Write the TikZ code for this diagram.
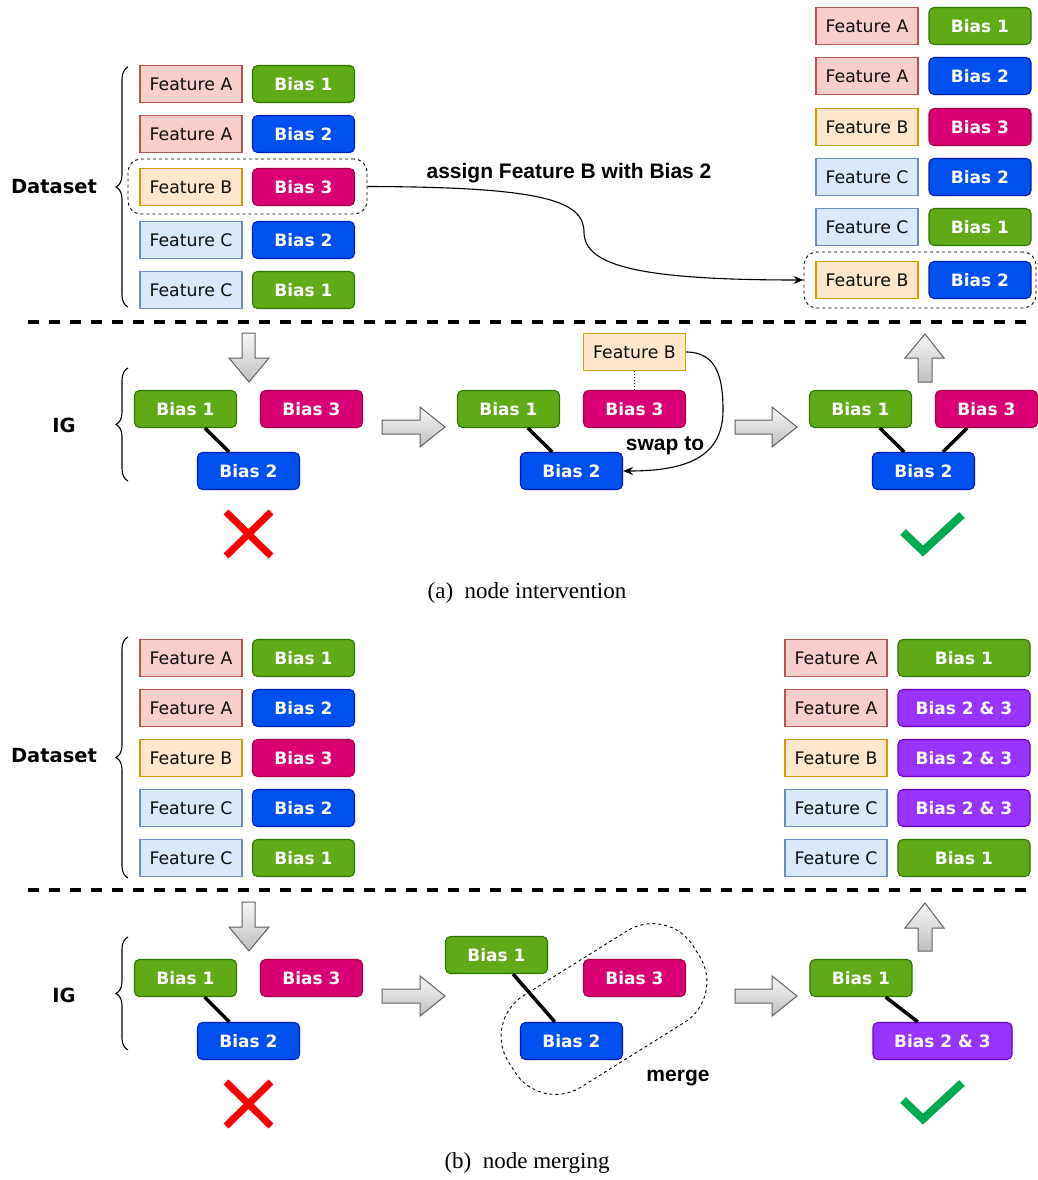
\documentclass[tikz,border=0pt]{standalone}
\usepackage{fontspec}
\setmainfont{Liberation Serif}
\newfontfamily\dvfont{DejaVu Sans}
\newfontfamily\arfont{Liberation Sans}
\usetikzlibrary{arrows.meta,decorations.pathreplacing}
\definecolor{fAfill}{HTML}{F8CECC}\definecolor{fAdraw}{HTML}{B85450}
\definecolor{fBfill}{HTML}{FFE6CC}\definecolor{fBdraw}{HTML}{D79B00}
\definecolor{fCfill}{HTML}{DAE8FC}\definecolor{fCdraw}{HTML}{6C8EBF}
\definecolor{bAfill}{HTML}{60A917}\definecolor{bAdraw}{HTML}{2D7600}
\definecolor{bBfill}{HTML}{0050EF}\definecolor{bBdraw}{HTML}{001DBC}
\definecolor{bCfill}{HTML}{D80073}\definecolor{bCdraw}{HTML}{A50040}
\definecolor{bDfill}{HTML}{9933FF}\definecolor{bDdraw}{HTML}{6A00CC}
\definecolor{okgreen}{HTML}{00AA50}
\begin{document}
\begin{tikzpicture}[x=1pt,y=-1pt,
  feat/.style={draw, line width=1.1pt, minimum width=102pt, minimum height=37pt, inner sep=0pt, text=black!95, font=\dvfont\fontsize{17.3}{20}\selectfont},
  fA/.style={feat, fill=fAfill, draw=fAdraw},
  fB/.style={feat, fill=fBfill, draw=fBdraw},
  fC/.style={feat, fill=fCfill, draw=fCdraw},
  bias/.style={draw, line width=1.1pt, rounded corners=5pt, minimum width=102pt, minimum height=37pt, inner sep=0pt, text=white, font=\dvfont\bfseries\fontsize{17}{20}\selectfont},
  bA/.style={bias, fill=bAfill, draw=bAdraw},
  bB/.style={bias, fill=bBfill, draw=bBdraw},
  bC/.style={bias, fill=bCfill, draw=bCdraw},
  bD/.style={bias, fill=bDfill, draw=bDdraw, minimum width=132pt},
  bD2/.style={bias, fill=bDfill, draw=bDdraw, minimum width=139pt},
  title/.style={font=\dvfont\bfseries\fontsize{19.5}{22}\selectfont},
  lbl/.style={font=\arfont\bfseries\fontsize{21}{25}\selectfont},
  captext/.style={font=\fontsize{23}{27}\selectfont},
  selbox/.style={draw, dashed, line width=0.9pt, rounded corners=13pt, inner sep=0pt},
  sep/.style={line width=3.5pt, dash pattern=on 11pt off 10pt},
  link/.style={line width=3.5pt},
  bracestyle/.style={decorate, decoration={brace, amplitude=12pt}, line width=1.1pt},
  blockarrow/.style={top color=gray!6, bottom color=gray!50, draw=gray!75!black, line width=1pt},
  arr/.style={line width=1.1pt, -{Stealth[length=10pt,width=8pt]}},
]
\useasboundingbox (0,0) rectangle (1038,1180);

% ================= (a) =================
\node[fA] (aF1) at (191,84) {Feature A};
\node[bA] (aB1) at (303.5,84) {Bias 1};
\node[fA] (aF2) at (191,134) {Feature A};
\node[bB] (aB2) at (303.5,134) {Bias 2};
\node[fB] (aF3) at (191,187) {Feature B};
\node[bC] (aB3) at (303.5,187) {Bias 3};
\node[fC] (aF4) at (191,240) {Feature C};
\node[bB] (aB4) at (303.5,240) {Bias 2};
\node[fC] (aF5) at (191,290) {Feature C};
\node[bA] (aB5) at (303.5,290) {Bias 1};
\node[selbox, minimum width=239pt, minimum height=55pt] (aSel) at (247.5,186.5) {};
\draw[bracestyle] (128,307) -- (128,67);
\node[title] (aData) at (54,187) {Dataset};

\node[fA] (aRF1) at (867,26) {Feature A};
\node[bA] (aRB1) at (980,26) {Bias 1};
\node[fA] (aRF2) at (867,76) {Feature A};
\node[bB] (aRB2) at (980,76) {Bias 2};
\node[fB] (aRF3) at (867,127) {Feature B};
\node[bC] (aRB3) at (980,127) {Bias 3};
\node[fC] (aRF4) at (867,177) {Feature C};
\node[bB] (aRB4) at (980,177) {Bias 2};
\node[fC] (aRF5) at (867,227) {Feature C};
\node[bA] (aRB5) at (980,227) {Bias 1};
\node[fB] (aRF6) at (867,280) {Feature B};
\node[bB] (aRB6) at (980,280) {Bias 2};
\node[selbox, minimum width=232pt, minimum height=56pt] (aSel2) at (920,280) {};

\draw[arr] (aSel.east) .. controls (540,187) and (584,200) .. (584,232)
  .. controls (584,266) and (640,280) .. (aSel2.west);
\node[lbl] (aAssign) at (569,173) {assign Feature B with Bias 2};

\draw[sep] (28,322) -- (1036,322);

\draw[bracestyle] (128,481) -- (128,368);
\node[title] (aIG) at (64,425) {IG};
\node[bA] (aL1) at (185.5,409) {Bias 1};
\node[bC] (aL3) at (311.5,409) {Bias 3};
\node[bB] (aL2) at (248.5,471) {Bias 2};
\draw[link] (aL1) -- (aL2);
\shade[blockarrow] (242,333) -- (255,333) -- (255,358) -- (269,358) -- (249,382) -- (229,358) -- (242,358) -- cycle;
\draw[red, line width=7pt] (226,512) -- (271,556) (271,512) -- (226,556);

\shade[blockarrow] (382,420) -- (420,420) -- (420,407) -- (445,427) -- (420,447) -- (420,434) -- (382,434) -- cycle;

\node[bA] (aM1) at (508.5,409) {Bias 1};
\node[bC] (aM3) at (634.5,409) {Bias 3};
\node[bB] (aM2) at (571.5,471) {Bias 2};
\node[fB] (aMF) at (634.5,352) {Feature B};
\draw[link] (aM1) -- (aM2);
\draw[dotted, line width=1pt] (aMF) -- (aM3);
\draw[arr] (aMF.east) .. controls (718,352) and (723,380) .. (723,410)
  .. controls (723,455) and (690,471) .. (aM2.east);
\node[lbl] (aSwap) at (665,446) {swap to};

\shade[blockarrow] (735,420) -- (772,420) -- (772,407) -- (797,427) -- (772,447) -- (772,434) -- (735,434) -- cycle;

\node[bA] (aR1) at (860.5,409) {Bias 1};
\node[bC] (aR3) at (986.5,409) {Bias 3};
\node[bB] (aR2) at (923.5,471) {Bias 2};
\draw[link] (aR1) -- (aR2);
\draw[link] (aR3) -- (aR2);
\shade[blockarrow] (918,382) -- (932,382) -- (932,358) -- (944,358) -- (925,334) -- (905,358) -- (918,358) -- cycle;
\draw[okgreen, line width=8pt] (903,532) -- (923,551) -- (962,515);

\node[captext] (aCap) at (527,593) {(a)\ \ node intervention};

% ================= (b) =================
\node[fA] (bF1) at (191,658) {Feature A};
\node[bA] (bB1) at (303.5,658) {Bias 1};
\node[fA] (bF2) at (191,708) {Feature A};
\node[bB] (bB2) at (303.5,708) {Bias 2};
\node[fB] (bF3) at (191,758) {Feature B};
\node[bC] (bB3) at (303.5,758) {Bias 3};
\node[fC] (bF4) at (191,808) {Feature C};
\node[bB] (bB4) at (303.5,808) {Bias 2};
\node[fC] (bF5) at (191,858) {Feature C};
\node[bA] (bB5) at (303.5,858) {Bias 1};
\draw[bracestyle] (128,878) -- (128,637);
\node[title] (bData) at (54,756) {Dataset};

\node[fA] (bRF1) at (836,658) {Feature A};
\node[bA, minimum width=132pt] (bRB1) at (964,658) {Bias 1};
\node[fA] (bRF2) at (836,708) {Feature A};
\node[bD] (bRB2) at (964,708) {Bias 2 \& 3};
\node[fB] (bRF3) at (836,758) {Feature B};
\node[bD] (bRB3) at (964,758) {Bias 2 \& 3};
\node[fC] (bRF4) at (836,808) {Feature C};
\node[bD] (bRB4) at (964,808) {Bias 2 \& 3};
\node[fC] (bRF5) at (836,858) {Feature C};
\node[bA, minimum width=132pt] (bRB5) at (964,858) {Bias 1};

\draw[sep] (28,890) -- (1036,890);

\draw[bracestyle] (128,1050) -- (128,937);
\node[title] (bIG) at (64,995) {IG};
\node[bA] (bL1) at (185.5,978) {Bias 1};
\node[bC] (bL3) at (311.5,978) {Bias 3};
\node[bB] (bL2) at (248.5,1041) {Bias 2};
\draw[link] (bL1) -- (bL2);
\shade[blockarrow] (242,902) -- (255,902) -- (255,927) -- (269,927) -- (249,951) -- (229,927) -- (242,927) -- cycle;
\draw[red, line width=7pt] (226,1082) -- (271,1126) (271,1082) -- (226,1126);

\shade[blockarrow] (382,989) -- (420,989) -- (420,976) -- (445,996) -- (420,1016) -- (420,1003) -- (382,1003) -- cycle;

\node[bA] (bM1) at (496.5,955) {Bias 1};
\node[bC] (bM3) at (634.5,978) {Bias 3};
\node[bB] (bM2) at (571.5,1041) {Bias 2};
\draw[link] (bM1) -- (bM2);
\node[draw, dashed, line width=0.9pt, rounded corners=48pt, minimum width=218pt, minimum height=108pt, rotate=32] (bBlob) at (604,1009) {};
\node[lbl] (bMerge) at (678,1078) {merge};

\shade[blockarrow] (735,989) -- (772,989) -- (772,976) -- (797,996) -- (772,1016) -- (772,1003) -- (735,1003) -- cycle;

\node[bA] (bR1) at (861,978) {Bias 1};
\node[bD2] (bR2) at (942.5,1041) {Bias 2 \& 3};
\draw[link] (bR1) -- (bR2);
\shade[blockarrow] (918,951) -- (932,951) -- (932,928) -- (944,928) -- (925,903) -- (905,928) -- (918,928) -- cycle;
\draw[okgreen, line width=8pt] (903,1100) -- (923,1119) -- (962,1083);

\node[captext] (bCap) at (527,1163) {(b)\ \ node merging};
\end{tikzpicture}
\end{document}
